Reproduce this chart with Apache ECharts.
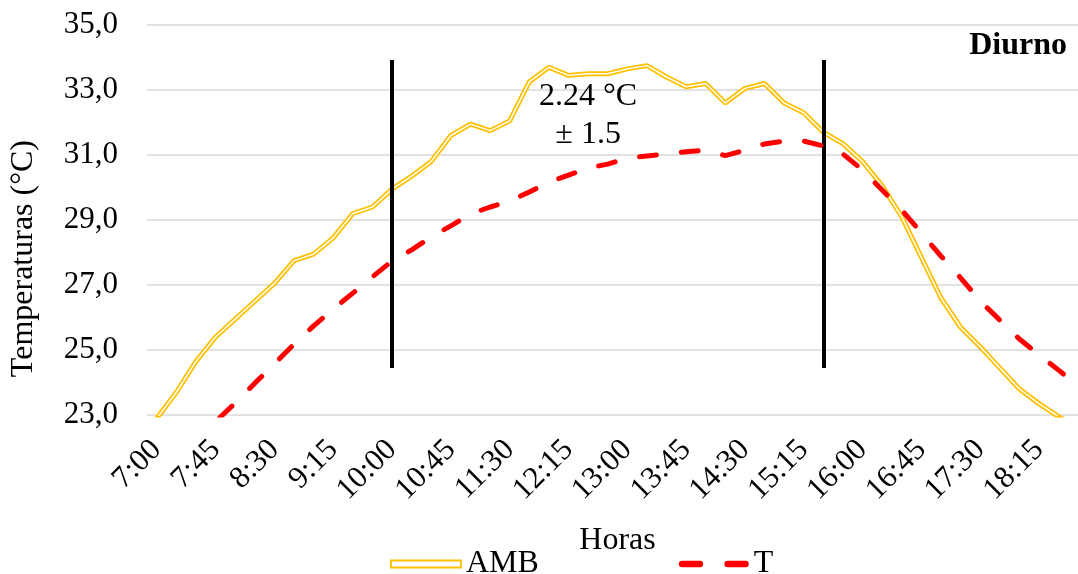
<!DOCTYPE html>
<html>
<head>
<meta charset="utf-8">
<script src="https://cdn.jsdelivr.net/npm/echarts@6/dist/echarts.min.js"></script>
<style>
html,body{margin:0;padding:0;background:#fff;}
#chart{width:1078px;height:574px;}
</style>
</head>
<body>
<div id="chart"></div>
<script>
var categories = ['7:00','7:15','7:30','7:45','8:00','8:15','8:30','8:45','9:00','9:15','9:30','9:45',
  '10:00','10:15','10:30','10:45','11:00','11:15','11:30','11:45','12:00','12:15','12:30','12:45',
  '13:00','13:15','13:30','13:45','14:00','14:15','14:30','14:45','15:00','15:15','15:30','15:45',
  '16:00','16:15','16:30','16:45','17:00','17:15','17:30','17:45','18:00','18:15','18:30','18:45'];
var amb = [22.9,23.7,24.65,25.4,25.95,26.5,27.05,27.75,27.95,28.45,29.2,29.4,
  29.95,30.35,30.8,31.6,31.95,31.75,32.05,33.25,33.7,33.45,33.5,33.5,
  33.65,33.75,33.4,33.1,33.2,32.6,33.05,33.2,32.6,32.3,31.7,31.35,
  30.8,30.05,29.1,27.85,26.6,25.7,25.1,24.45,23.8,23.35,22.95,22.6];
var tData = [21.2,21.7,22.25,22.8,23.37,23.98,24.57,25.18,25.74,26.26,26.75,27.25,
  27.74,28.08,28.48,28.82,29.18,29.4,29.58,29.86,30.17,30.38,30.6,30.72,
  30.9,30.97,31.03,31.1,31.15,30.98,31.15,31.34,31.43,31.43,31.28,31.03,
  30.54,29.92,29.31,28.6,27.89,27.22,26.51,25.92,25.34,24.85,24.38,23.89];
var markerTimes = ['10:00','15:30'];
var markerRange = [33.92, 24.45];
var noteText = ['2.24 °C', '± 1.5'];
var notePos = ['12:30', 32.2];
var yTicks = {min: 23, max: 35, step: 2};

var FONT = "'Liberation Serif','Times New Roman',serif";
var chart = echarts.init(document.getElementById('chart'));
chart.setOption({
  animation: false,
  backgroundColor: '#fff',
  textStyle: {fontFamily: FONT, color: '#000'},
  title: {
    text: 'Diurno', right: 6, top: 25,
    textStyle: {fontFamily: FONT, fontSize: 32, fontWeight: 'bold', color: '#000'}
  },
  grid: {left: 147, width: 941, top: 25, bottom: 159, containLabel: false, outerBoundsMode: 'none'},
  legend: {
    left: 385, top: 543, itemGap: 140, itemWidth: 70, itemHeight: 7,
    textStyle: {fontFamily: FONT, fontSize: 32, color: '#000'},
    data: [
      {name: 'AMB', icon: 'rect', itemStyle: {color: '#fff', borderColor: '#FFC000', borderWidth: 1.8}},
      {name: 'T', icon: 'path://M3,0h17a3,3 0 0 1 0,6h-17a3,3 0 0 1 0,-6z M46,0h17a3,3 0 0 1 0,6h-17a3,3 0 0 1 0,-6z',
        itemStyle: {color: '#FF0000'}}
    ]
  },
  graphic: [{
    type: 'text', left: 8, top: 140, rotation: Math.PI / 2,
    style: {text: 'Temperaturas (°C)', font: '32px ' + FONT, fill: '#000'}
  }],
  xAxis: {
    type: 'category', data: categories, boundaryGap: true,
    name: 'Horas', nameLocation: 'middle', nameGap: 110,
    nameTextStyle: {fontFamily: FONT, fontSize: 32, color: '#000', padding: [0, 0, 0, 0]},
    axisLine: {show: false}, axisTick: {show: false},
    axisLabel: {interval: 2, rotate: 45, margin: 30, fontFamily: FONT, fontSize: 31, color: '#000'}
  },
  yAxis: {
    type: 'value', min: yTicks.min, max: yTicks.max, interval: yTicks.step,
    axisLine: {show: false}, axisTick: {show: false},
    splitLine: {lineStyle: {color: '#D9D9D9', width: 1.5}},
    axisLabel: {margin: 29, fontFamily: FONT, fontSize: 31, color: '#000',
      formatter: function (v) { return v.toFixed(1).replace('.', ','); }}
  },
  series: [
    {
      name: 'AMB', type: 'line', data: amb, symbol: 'none', z: 3,
      lineStyle: {color: '#FFC000', width: 5},
      itemStyle: {color: '#FFC000'}
    },
    {
      name: 'AMB_inner', type: 'line', data: amb, symbol: 'none', z: 4,
      lineStyle: {color: '#fff', width: 1.5}, silent: true
    },
    {
      name: 'T', type: 'line', data: tData, symbol: 'none', z: 5,
      lineStyle: {color: '#FF0000', width: 5, type: [17, 25], cap: 'round'},
      itemStyle: {color: '#FF0000'},
      markLine: {
        silent: true, symbol: ['none', 'none'], label: {show: false},
        lineStyle: {color: '#000', width: 4, type: 'solid'},
        data: markerTimes.map(function (t) {
          return [{coord: [t, markerRange[0]]}, {coord: [t, markerRange[1]]}];
        })
      },
      markPoint: {
        symbol: 'circle', symbolSize: 0, silent: true,
        label: {show: true, position: 'inside', formatter: noteText.join('\n'),
          fontFamily: FONT, fontSize: 32, lineHeight: 38, color: '#000'},
        data: [{coord: notePos}]
      }
    }
  ]
});
</script>
</body>
</html>
